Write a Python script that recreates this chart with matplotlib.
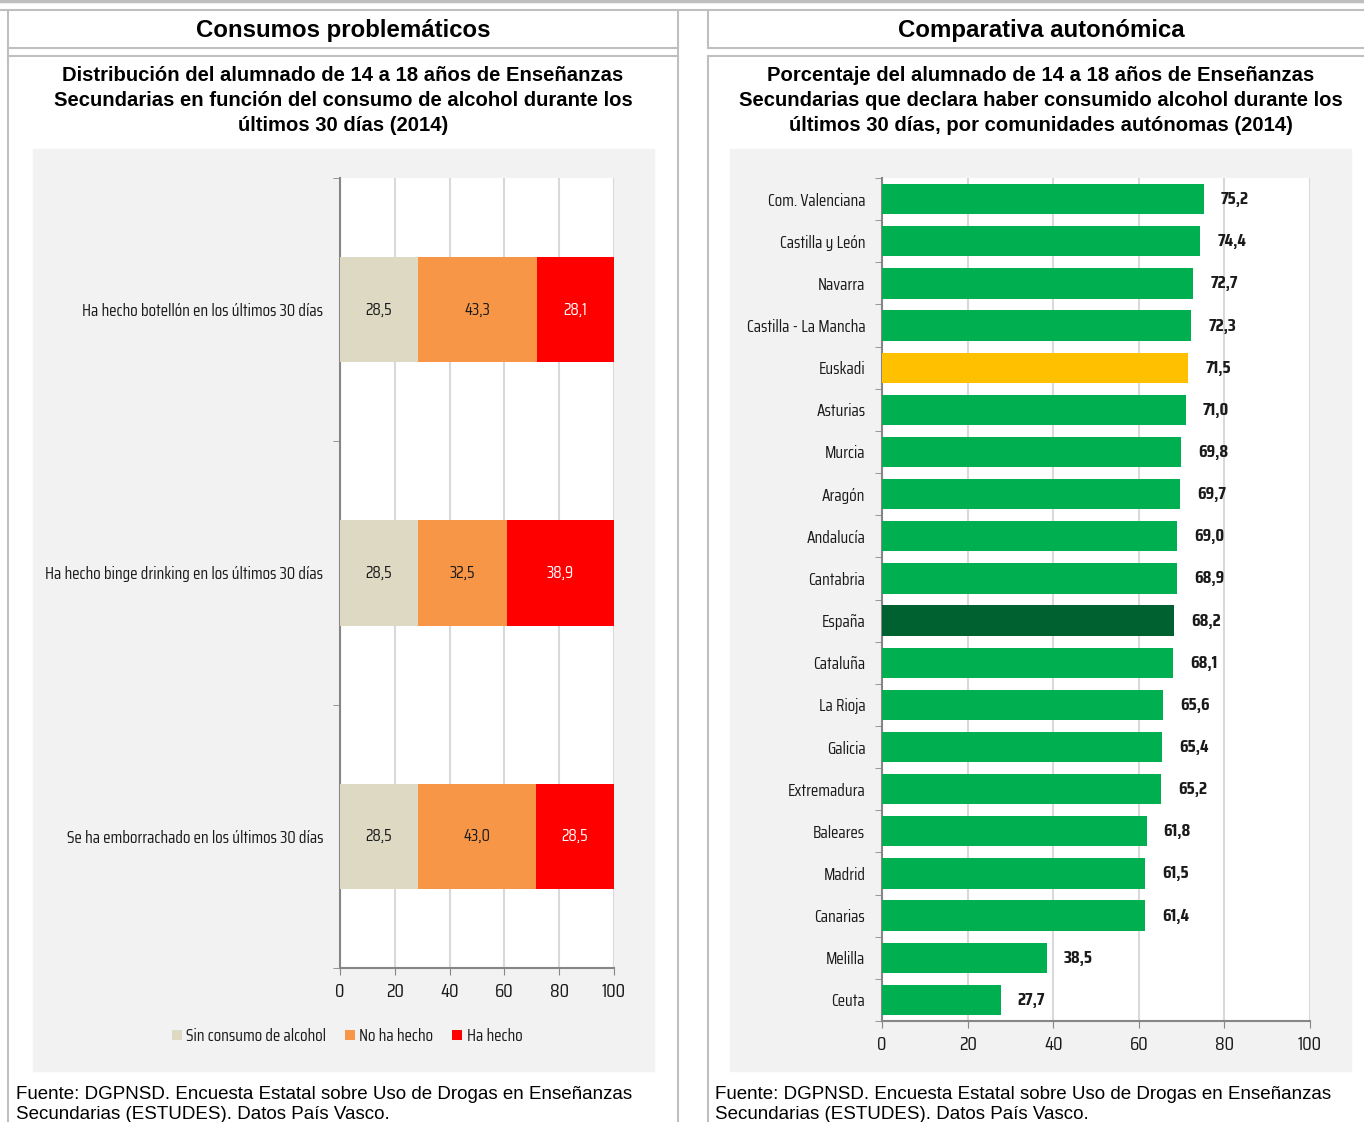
import numpy as np
import matplotlib.pyplot as plt
from matplotlib.lines import Line2D
from matplotlib.patches import Rectangle
from matplotlib import font_manager

W, H = 1364, 1122

# datos panel izquierdo
conductas = ['Ha hecho botellón en los últimos 30 días',
             'Ha hecho binge drinking en los últimos 30 días',
             'Se ha emborrachado en los últimos 30 días']
sin_consumo = [28.5, 28.5, 28.5]
no_ha_hecho = [43.3, 32.5, 43.0]
ha_hecho = [28.1, 38.9, 28.5]
series_izq = ['Sin consumo de alcohol', 'No ha hecho', 'Ha hecho']

# datos panel derecho
comunidades = ['Com. Valenciana', 'Castilla y León', 'Navarra', 'Castilla - La Mancha',
               'Euskadi', 'Asturias', 'Murcia', 'Aragón', 'Andalucía', 'Cantabria',
               'España', 'Cataluña', 'La Rioja', 'Galicia', 'Extremadura', 'Baleares',
               'Madrid', 'Canarias', 'Melilla', 'Ceuta']
porcentaje = [75.2, 74.4, 72.7, 72.3, 71.5, 71.0, 69.8, 69.7, 69.0, 68.9,
              68.2, 68.1, 65.6, 65.4, 65.2, 61.8, 61.5, 61.4, 38.5, 27.7]

installed = {f.name for f in font_manager.fontManager.ttflist}
# fuente estrecha tipo Agency FB
narrow = 'DejaVu Sans'
for cand in ['Saira Extra Condensed', 'Saira Condensed', 'Pathway Gothic One',
             'Roboto Condensed', 'Oswald', 'Antonio', 'Liberation Sans Narrow']:
    if cand in installed:
        narrow = cand
        break
arial = 'Liberation Sans'

plt.rcParams['font.family'] = [arial, 'DejaVu Sans']

fig = plt.figure(figsize=(W / 100, H / 100), dpi=100)
fig.patch.set_facecolor('white')


def fx(x):
    return x / W


def fy(y):
    return 1 - y / H


def hline(x0, x1, y, lw=1.5, c='#BFBFBF'):
    fig.add_artist(Line2D([fx(x0), fx(x1)], [fy(y), fy(y)], color=c, lw=lw))


def vline(x, y0, y1, lw=1.5, c='#BFBFBF'):
    fig.add_artist(Line2D([fx(x), fx(x)], [fy(y0), fy(y1)], color=c, lw=lw))


def add_ax(x0, y0, x1, y1):
    return fig.add_axes([fx(x0), fy(y1), (x1 - x0) / W, (y1 - y0) / H])


# marcos
hline(0, W, 1, lw=2.5)
hline(0, W, 10)
for xa, xb in [(8, 678), (708, W)]:
    hline(xa, xb, 48)
    hline(xa, xb, 56)
vline(8, 10, H)
vline(678, 10, H)
vline(708, 10, 48)
vline(708, 56, H)

fig.text(fx(343), fy(30), 'Consumos problemáticos', ha='center', va='center',
         fontsize=17.3, fontweight='bold')
fig.text(fx(1041), fy(30), 'Comparativa autonómica', ha='center', va='center',
         fontsize=17.3, fontweight='bold')

fig.text(fx(343), fy(100.5), 'Distribución del alumnado de 14 a 18 años de Enseñanzas\n'
         'Secundarias en función del consumo de alcohol durante los\n'
         'últimos 30 días (2014)', ha='center', va='center', fontsize=14.6,
         fontweight='bold', linespacing=1.4)
fig.text(fx(1041), fy(100.5), 'Porcentaje del alumnado de 14 a 18 años de Enseñanzas\n'
         'Secundarias que declara haber consumido alcohol durante los\n'
         'últimos 30 días, por comunidades autónomas (2014)', ha='center', va='center',
         fontsize=14.6, fontweight='bold', linespacing=1.4)

fuente = ('Fuente: DGPNSD. Encuesta Estatal sobre Uso de Drogas en Enseñanzas\n'
          'Secundarias (ESTUDES). Datos País Vasco.')
fig.text(fx(16), fy(1086), fuente, ha='left', va='top', fontsize=13.5, linespacing=1.2)
fig.text(fx(715), fy(1086), fuente, ha='left', va='top', fontsize=13.5, linespacing=1.2)

# fondos grises
fig.add_artist(Rectangle((fx(33), fy(1071)), (654 - 33) / W, (1071 - 149) / H,
                         transform=fig.transFigure, color='#F2F2F2', zorder=0))
fig.add_artist(Rectangle((fx(730), fy(1071)), (1351 - 730) / W, (1071 - 149) / H,
                         transform=fig.transFigure, color='#F2F2F2', zorder=0))

axis_col = '#868686'
grid_col = '#D9D9D9'
txt_col = '#1a1a1a'
fs_lab = 12.3

# ---- panel izquierdo ----
ax = add_ax(340, 178, 614, 968)
colors_izq = ['#DDD9C3', '#F79646', '#FF0000']
pos = np.arange(len(conductas))
left = np.zeros(len(conductas))
for vals, col, name in zip([sin_consumo, no_ha_hecho, ha_hecho], colors_izq, series_izq):
    bars = ax.barh(pos, vals, left=left, height=0.4, color=col, label=name, zorder=3)
    tcol = 'white' if col == '#FF0000' else txt_col
    for b, v in zip(bars, vals):
        ax.text(b.get_x() + b.get_width() / 2, b.get_y() + b.get_height() / 2,
                f'{v:.1f}'.replace('.', ','), ha='center', va='center',
                fontsize=fs_lab, color=tcol, family=narrow, zorder=4)
    left += np.array(vals)
ax.set_xlim(0, 100)
ax.set_ylim(len(conductas) - 0.5, -0.5)
ax.set_xticks(np.arange(0, 101, 20))
ax.set_yticks(pos)
ax.set_yticklabels(conductas, family=narrow, fontsize=fs_lab, color=txt_col)
ax.set_yticks(np.arange(-0.5, len(conductas)), minor=True)
ax.tick_params(axis='y', which='major', length=0, pad=12)
ax.tick_params(axis='y', which='minor', length=5, color=axis_col)
ax.tick_params(axis='x', length=5, color=axis_col, pad=6, labelsize=14, labelcolor=txt_col)
for lab in ax.get_xticklabels():
    lab.set_family(narrow)
ax.grid(axis='x', color=grid_col, lw=1.5, zorder=0)
for s in ['top', 'right']:
    ax.spines[s].set_visible(False)
for s in ['left', 'bottom']:
    ax.spines[s].set_color(axis_col)
    ax.spines[s].set_linewidth(1.5)
ax.legend(loc='center', bbox_to_anchor=(fx(347), fy(1036)), bbox_transform=fig.transFigure,
          ncol=3, frameon=False, handlelength=0.6, handleheight=0.6, handletextpad=0.25,
          columnspacing=1.1, prop={'family': narrow, 'size': fs_lab}, labelcolor=txt_col)

# ---- panel derecho ----
ax2 = add_ax(882, 178, 1310, 1021)
pos2 = np.arange(len(comunidades))
colors_der = ['#FFC000' if c == 'Euskadi' else '#006130' if c == 'España' else '#00B050'
              for c in comunidades]
bars2 = ax2.barh(pos2, porcentaje, height=0.72, color=colors_der, zorder=3)
for b, v in zip(bars2, porcentaje):
    ax2.text(v + 4.0, b.get_y() + b.get_height() / 2, f'{v:.1f}'.replace('.', ','),
             ha='left', va='center', fontsize=13, fontweight='bold', family=narrow,
             color=txt_col)
ax2.set_xlim(0, 100)
ax2.set_ylim(len(comunidades) - 0.5, -0.5)
ax2.set_xticks(np.arange(0, 101, 20))
ax2.set_yticks(pos2)
ax2.set_yticklabels(comunidades, family=narrow, fontsize=fs_lab, color=txt_col)
ax2.set_yticks(np.arange(-0.5, len(comunidades)), minor=True)
ax2.tick_params(axis='y', which='major', length=0, pad=12)
ax2.tick_params(axis='y', which='minor', length=5, color=axis_col)
ax2.tick_params(axis='x', length=5, color=axis_col, pad=6, labelsize=14, labelcolor=txt_col)
for lab in ax2.get_xticklabels():
    lab.set_family(narrow)
ax2.grid(axis='x', color=grid_col, lw=1.5, zorder=0)
for s in ['top', 'right']:
    ax2.spines[s].set_visible(False)
for s in ['left', 'bottom']:
    ax2.spines[s].set_color(axis_col)
    ax2.spines[s].set_linewidth(1.5)

fig.savefig('out.png', dpi=100, facecolor='white')
